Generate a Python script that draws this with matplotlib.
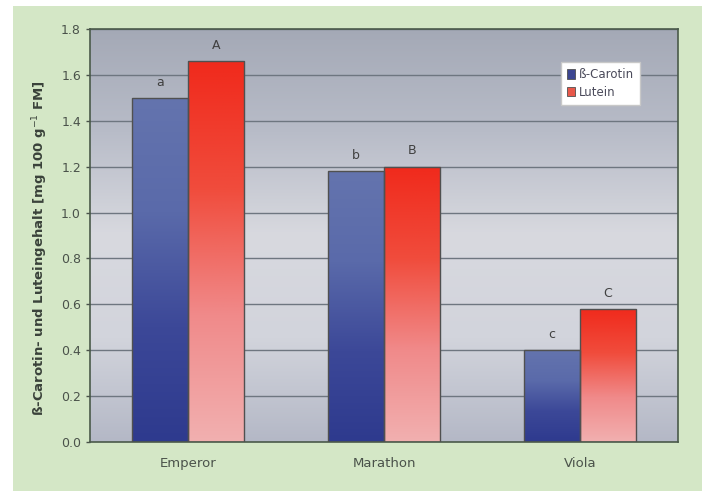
import numpy as np
import matplotlib.pyplot as plt
from matplotlib.patches import Rectangle
from matplotlib.colors import LinearSegmentedColormap

sorten = ['Emperor', 'Marathon', 'Viola']
carotin = [1.50, 1.18, 0.40]
lutein = [1.66, 1.20, 0.58]
carotin_sig = ['a', 'b', 'c']
lutein_sig = ['A', 'B', 'C']

blue_cmap = LinearSegmentedColormap.from_list('blau', ['#2e3a8e', '#3c4898', '#5a6aaa', '#6474ae'])
red_cmap = LinearSegmentedColormap.from_list('rot', ['#f2b0b0', '#f08a8a', '#f04c3c', '#f02a1c'])
bg_cmap = LinearSegmentedColormap.from_list('bg', ['#b4b8c6', '#d2d4dc', '#d8d9df', '#b8bcc8', '#a4a9b6'])

fig = plt.figure(figsize=(7.06, 4.91), dpi=100)
fig.patch.set_facecolor('white')
green = Rectangle((13 / 706, 0), 689 / 706, 485 / 491, transform=fig.transFigure,
                  facecolor='#d4e7c6', edgecolor='none', zorder=-10)
fig.add_artist(green)

ax = fig.add_axes([90 / 706, 49 / 491, 588 / 706, 413 / 491])
ax.set_facecolor('none')

# grauer Verlauf im Hintergrund
grad = np.linspace(0, 1, 256).reshape(-1, 1)
ax.imshow(grad, cmap=bg_cmap, aspect='auto', extent=[0, 1, 0, 1], origin='lower',
          transform=ax.transAxes, zorder=0)

x = np.arange(len(sorten))
w = 0.286

for yv in np.arange(0.2, 1.81, 0.2):
    ax.axhline(yv, color='#6e7680', lw=1.0, zorder=1)

def gradient_bars(xs, vals, cmap):
    bars = ax.bar(xs, vals, w, facecolor='none', edgecolor='#505050', lw=1.0, zorder=3)
    for b in bars:
        x0, y0 = b.get_x(), b.get_y()
        im = ax.imshow(grad, cmap=cmap, aspect='auto', origin='lower',
                       extent=[x0, x0 + b.get_width(), y0, y0 + b.get_height()], zorder=2)
        im.set_clip_path(b)
    return bars

gradient_bars(x - w / 2, carotin, blue_cmap)
gradient_bars(x + w / 2, lutein, red_cmap)
ax.set_xlim(-0.5, 2.5)
ax.set_ylim(0, 1.8)

for i in range(len(sorten)):
    ax.text(x[i] - w / 2, carotin[i] + 0.04, carotin_sig[i], ha='center', va='bottom',
            fontsize=9, color='#404040')
    ax.text(x[i] + w / 2, lutein[i] + 0.04, lutein_sig[i], ha='center', va='bottom',
            fontsize=9, color='#404040')

ax.set_xticks(x)
ax.set_xticklabels(sorten)
ax.set_yticks(np.arange(0, 1.81, 0.2))
ax.set_yticklabels([f'{v:.1f}' for v in np.arange(0, 1.81, 0.2)])
ax.tick_params(axis='both', labelsize=9, colors='#4a524a', length=3, width=1)
ax.tick_params(axis='x', length=0, pad=11, labelsize=9.5)
for s in ax.spines.values():
    s.set_color('#4a5a4a')
    s.set_linewidth(1.2)

ax.set_ylabel('ß-Carotin- und Luteingehalt [mg 100 g$^{-1}$ FM]', fontsize=9.5,
              fontweight='bold', color='#3a423a')
ax.yaxis.set_label_coords(-0.068, 0.47)

leg_handles = [Rectangle((0, 0), 1, 1, facecolor='#3c4690', edgecolor='#505050', lw=0.6),
               Rectangle((0, 0), 1, 1, facecolor='#e8584a', edgecolor='#505050', lw=0.6)]
leg = ax.legend(leg_handles, ['ß-Carotin', 'Lutein'], loc='upper right',
                bbox_to_anchor=(0.935, 0.92), fontsize=8.5, frameon=True, fancybox=False,
                handlelength=0.7, handleheight=0.9, handletextpad=0.3, borderpad=0.5,
                labelspacing=0.4, borderaxespad=0)
leg.get_frame().set_facecolor('white')
leg.get_frame().set_edgecolor('#c8c8c8')
leg.get_frame().set_alpha(1)
for t in leg.get_texts():
    t.set_color('#4a4a5a')

fig.savefig('out.png', dpi=100)
